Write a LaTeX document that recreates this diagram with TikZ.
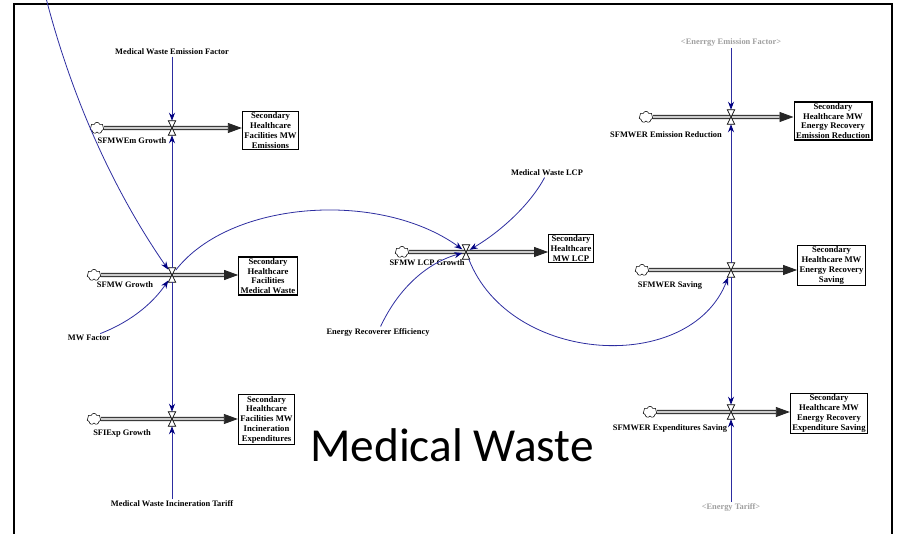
\documentclass[tikz,border=0pt]{standalone}
\usepackage{fontspec}
\setmainfont{Liberation Serif}
\newfontfamily\titlefont{Carlito}
\usetikzlibrary{arrows.meta,shapes.symbols}

\definecolor{linkblue}{RGB}{45,45,160}
\definecolor{tipblue}{RGB}{0,0,128}

\tikzset{
  varlabel/.style={font=\fontsize{6.3}{7}\selectfont\bfseries, inner sep=1pt},
  shadowlabel/.style={varlabel, text=gray!75},
  stockbox/.style={draw, line width=0.8pt, fill=white, align=center, inner xsep=1.5pt, inner ysep=1pt,
    font=\fontsize{6.5}{7.3}\selectfont\bfseries},
  source/.style={cloud, cloud puffs=7, draw, line width=0.4pt, fill=white, minimum width=10.5pt,
    minimum height=8.5pt, inner sep=0pt, aspect=1.2},
  valvenode/.style={minimum width=5.2pt, minimum height=10.5pt, inner sep=0pt},
  valveshape/.style={draw, fill=white, line width=0.5pt},
  pipe/.style={draw=black!85, double=gray!40, double distance=1.8pt, line width=0.65pt,
    -{Triangle[length=10.5pt,width=7.5pt]}},
  link/.style={draw=linkblue, line width=0.6pt, -{Stealth[length=6pt,width=4.5pt,color=tipblue]}},
}

\begin{document}
\begin{tikzpicture}[x=0.75pt, y=-0.75pt]
    \useasboundingbox (0,0) rectangle (899,534);
    \draw[line width=2.2pt] (14,4) rectangle (892,560);

    % stocks
    \node[stockbox] (B1) at (270.5,130.5) {Secondary\\Healthcare\\Facilities MW\\Emissions};
    \node[stockbox] (B2) at (268,276) {Secondary\\Healthcare\\Facilities\\Medical Waste};
    \node[stockbox] (B3) at (266.5,419.5) {Secondary\\Healthcare\\Facilities MW\\Incineration\\Expenditures};
    \node[stockbox] (BL) at (571,248.5) {Secondary\\Healthcare\\MW LCP};
    \node[stockbox] (BR1) at (833,121) {Secondary\\Healthcare MW\\Energy Recovery\\Emission Reduction};
    \node[stockbox] (BR2) at (831.5,265.5) {Secondary\\Healthcare MW\\Energy Recovery\\Saving};
    \node[stockbox] (BR3) at (829,413.5) {Secondary\\Healthcare MW\\Energy Recovery\\Expenditure Saving};

    % sources
    \node[source] (C1) at (97,128) {};
    \node[source] (C2) at (94,275) {};
    \node[source] (C3) at (94,419) {};
    \node[source] (CL) at (402,252) {};
    \node[source] (CR1) at (646,117) {};
    \node[source] (CR2) at (642,270) {};
    \node[source] (CR3) at (650,412) {};

    % valves
    \node[valvenode] (V1) at (172,128) {};
    \node[valvenode] (V2) at (172,275) {};
    \node[valvenode] (V3) at (172,419) {};
    \node[valvenode] (VL) at (466,252) {};
    \node[valvenode] (VR1) at (731,117) {};
    \node[valvenode] (VR2) at (731,270) {};
    \node[valvenode] (VR3) at (731,412) {};

    % flows
    \draw[pipe] (C1) -- (C1 -| B1.west);
    \draw[pipe] (C2) -- (C2 -| B2.west);
    \draw[pipe] (C3) -- (C3 -| B3.west);
    \draw[pipe] (CL) -- (CL -| BL.west);
    \draw[pipe] (CR1) -- (CR1 -| BR1.west);
    \draw[pipe] (CR2) -- (CR2 -| BR2.west);
    \draw[pipe] (CR3) -- (CR3 -| BR3.west);
    \foreach \v in {V1,V2,V3,VL,VR1,VR2,VR3}
        \draw[valveshape] (\v.north west) -- (\v.north east) -- (\v.south west) -- (\v.south east) -- cycle;

    % variables
    \node[varlabel] (mwef) at (172,52) {Medical Waste Emission Factor};
    \node[varlabel] (lsfmwem) at (132,141) {SFMWEm Growth};
    \node[varlabel] (lsfmw) at (125,285) {SFMW Growth};
    \node[varlabel] (mwf) at (89,338) {MW Factor};
    \node[varlabel] (lsfiexp) at (122,433) {SFIExp Growth};
    \node[varlabel] (mwit) at (172,504) {Medical Waste Incineration Tariff};
    \node[varlabel] (lsfmwlcp) at (427,263) {SFMW LCP Growth};
    \node[varlabel] (mwlcp) at (547,173) {Medical Waste LCP};
    \node[varlabel] (ere) at (378,332) {Energy Recoverer Efficiency};
    \node[shadowlabel] (eef) at (731,43) {<Enerrgy Emission Factor>};
    \node[varlabel] (lsfmwerer) at (666,135) {SFMWER Emission Reduction};
    \node[varlabel] (lsfmwers) at (670,286) {SFMWER Saving};
    \node[varlabel] (lsfmwerex) at (670,429) {SFMWER Expenditures Saving};
    \node[shadowlabel] (et) at (731,507) {<Energy Tariff>};
    \coordinate (topin) at (46,-2);

    % links
    \draw[link] (mwef) -- (V1);
    \draw[link] (V2) -- (V1);
    \draw[link] (V2) -- (V3);
    \draw[link] (mwit) -- (V3);
    \draw[link] (topin) .. controls (75,110) and (120,200) .. (V2);
    \draw[link] (mwf) .. controls (135,320) and (155,300) .. (V2);
    \draw[link] (V2) .. controls (230,200) and (380,190) .. (VL);
    \draw[link] (mwlcp) .. controls (530,205) and (500,232) .. (VL);
    \draw[link] (ere) .. controls (400,285) and (430,262) .. (VL);
    \draw[link] (VL) .. controls (510,365) and (690,375) .. (VR2);
    \draw[link] (eef) -- (VR1);
    \draw[link] (VR2) -- (VR1);
    \draw[link] (VR2) -- (VR3);
    \draw[link] (et) -- (VR3);

    \node[font=\titlefont\fontsize{35.5}{40}\selectfont, anchor=base] (title) at (452,461) {Medical Waste};
\end{tikzpicture}
\end{document}
